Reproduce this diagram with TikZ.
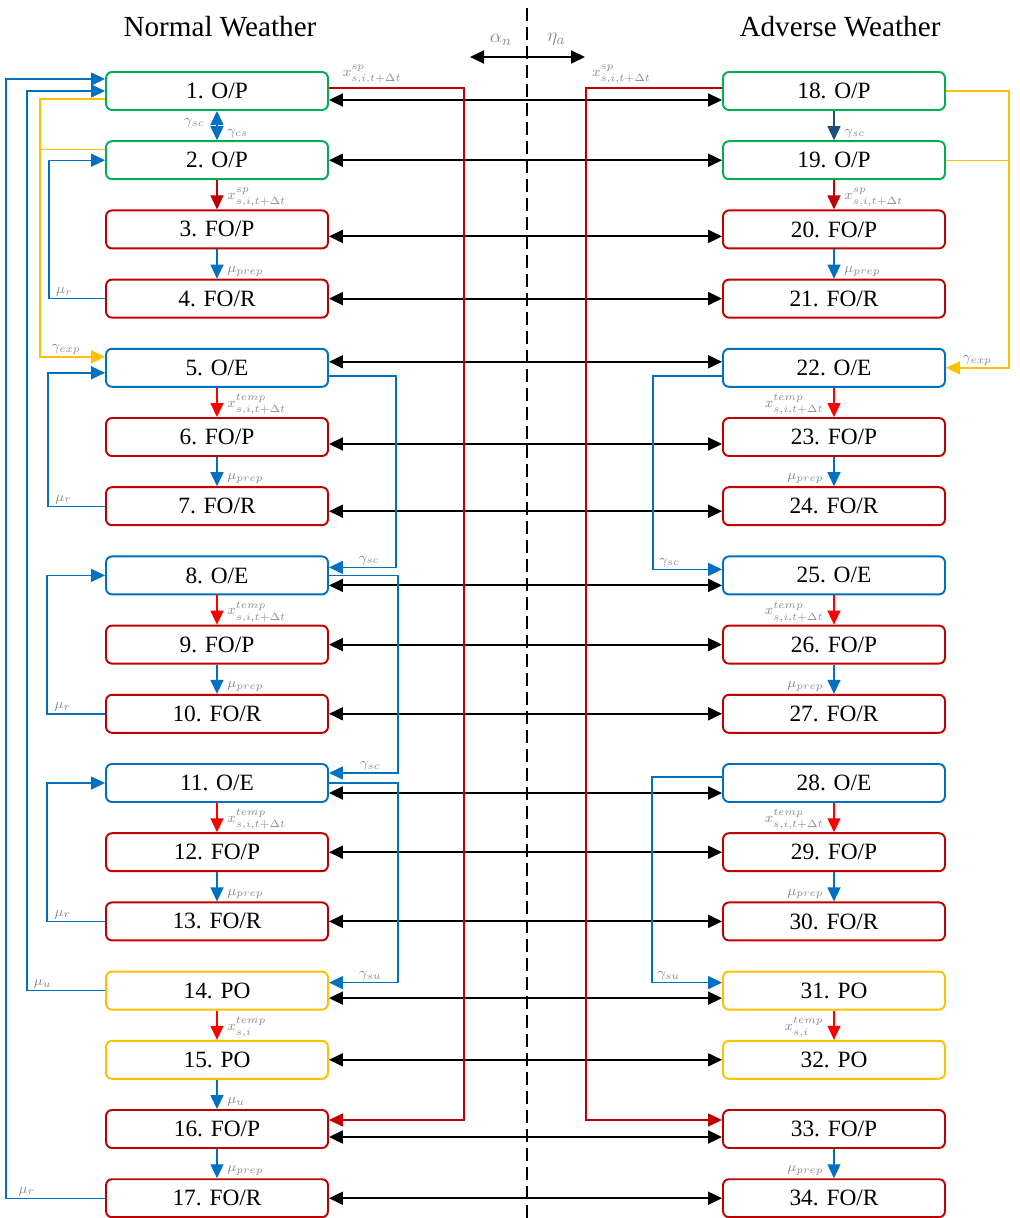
\documentclass[tikz,border=0pt]{standalone}
\usepackage{fontspec}
\setmainfont{Liberation Serif}
\usetikzlibrary{arrows.meta}
\usepackage{xcolor}
\definecolor{grn}{RGB}{0,176,80}
\definecolor{dred}{RGB}{192,0,0}
\definecolor{bred}{RGB}{255,0,0}
\definecolor{blu}{RGB}{0,112,192}
\definecolor{ylw}{RGB}{255,192,0}
\definecolor{navy}{RGB}{31,78,121}
\definecolor{lbgray}{RGB}{140,140,140}

\begin{document}
\begin{tikzpicture}[x=0.02cm, y=-0.02cm,
    statebox/.style={rectangle, draw, rounded corners=0.12cm, line width=1.1pt, minimum width=4.44cm, minimum height=0.76cm, inner sep=0pt, font=\fontsize{13.3}{15}\selectfont},
    onearrow/.style={-{Triangle[length=0.28cm, width=0.26cm]}},
    twoarrow/.style={{Triangle[length=0.28cm, width=0.26cm]}-{Triangle[length=0.28cm, width=0.26cm]}},
    pair/.style={twoarrow, line width=1.1pt},
    bluline/.style={onearrow, draw=blu, line width=0.8pt},
    redline/.style={onearrow, draw=bred, line width=0.8pt},
    dredline/.style={onearrow, draw=dred, line width=0.8pt},
    ylwline/.style={onearrow, draw=ylw, line width=0.8pt},
    lbl/.style={text=lbgray, font=\fontsize{8}{9}\selectfont, inner sep=1pt},
    rlbl/.style={lbl, anchor=south west, pos=1, xshift=0.16cm},
    llbl/.style={lbl, anchor=south east, pos=1, xshift=-0.16cm},
    heading/.style={font=\fontsize{16.6}{20}\selectfont}]
    \useasboundingbox (0,0) rectangle (1019,1218);

    % Headings
    \node[heading] (normal) at (220,27) {Normal Weather};
    \node[heading] (adverse) at (840,27) {Adverse Weather};

    % Divider
    \coordinate (divtop) at (527,8);
    \coordinate (divbot) at (527,1218);
    \coordinate (swl) at (470,57);
    \coordinate (swr) at (585,57);
    \draw[line width=1.1pt, dash pattern=on 0.26cm off 0.12cm] (divtop) -- (divbot);
    \draw[pair] (swl) -- node[lbl, font=\fontsize{11}{12}\selectfont, above, pos=0.27, yshift=0.18cm] {$\alpha_n$} node[lbl, font=\fontsize{11}{12}\selectfont, above, pos=0.75, yshift=0.18cm] {$\eta_a$} (swr);

    % Normal weather states
    \node[statebox, draw=grn] (L1) at (217,91) {1. O/P};
    \node[statebox, draw=grn] (L2) at (217,160.2) {2. O/P};
    \node[statebox, draw=dred] (L3) at (217,229.4) {3. FO/P};
    \node[statebox, draw=dred] (L4) at (217,298.6) {4. FO/R};
    \node[statebox, draw=blu] (L5) at (217,367.8) {5. O/E};
    \node[statebox, draw=dred] (L6) at (217,437) {6. FO/P};
    \node[statebox, draw=dred] (L7) at (217,506.2) {7. FO/R};
    \node[statebox, draw=blu] (L8) at (217,575.4) {8. O/E};
    \node[statebox, draw=dred] (L9) at (217,644.6) {9. FO/P};
    \node[statebox, draw=dred] (L10) at (217,713.8) {10. FO/R};
    \node[statebox, draw=blu] (L11) at (217,783) {11. O/E};
    \node[statebox, draw=dred] (L12) at (217,852.2) {12. FO/P};
    \node[statebox, draw=dred] (L13) at (217,921.4) {13. FO/R};
    \node[statebox, draw=ylw] (L14) at (217,990.6) {14. PO};
    \node[statebox, draw=ylw] (L15) at (217,1059.8) {15. PO};
    \node[statebox, draw=dred] (L16) at (217,1129) {16. FO/P};
    \node[statebox, draw=dred] (L17) at (217,1198.2) {17. FO/R};

    % Adverse weather states
    \node[statebox, draw=grn] (R1) at (834,91) {18. O/P};
    \node[statebox, draw=grn] (R2) at (834,160.2) {19. O/P};
    \node[statebox, draw=dred] (R3) at (834,229.4) {20. FO/P};
    \node[statebox, draw=dred] (R4) at (834,298.6) {21. FO/R};
    \node[statebox, draw=blu] (R5) at (834,367.8) {22. O/E};
    \node[statebox, draw=dred] (R6) at (834,437) {23. FO/P};
    \node[statebox, draw=dred] (R7) at (834,506.2) {24. FO/R};
    \node[statebox, draw=blu] (R8) at (834,575.4) {25. O/E};
    \node[statebox, draw=dred] (R9) at (834,644.6) {26. FO/P};
    \node[statebox, draw=dred] (R10) at (834,713.8) {27. FO/R};
    \node[statebox, draw=blu] (R11) at (834,783) {28. O/E};
    \node[statebox, draw=dred] (R12) at (834,852.2) {29. FO/P};
    \node[statebox, draw=dred] (R13) at (834,921.4) {30. FO/R};
    \node[statebox, draw=ylw] (R14) at (834,990.6) {31. PO};
    \node[statebox, draw=ylw] (R15) at (834,1059.8) {32. PO};
    \node[statebox, draw=dred] (R16) at (834,1129) {33. FO/P};
    \node[statebox, draw=dred] (R17) at (834,1198.2) {34. FO/R};

    % Weather transitions
    \draw[pair] ([yshift=-0.18cm]L1.east) -- ([yshift=-0.18cm]R1.west);
    \draw[pair] (L2.east) -- (R2.west);
    \draw[pair] ([yshift=-0.14cm]L3.east) -- ([yshift=-0.14cm]R3.west);
    \draw[pair] (L4.east) -- (R4.west);
    \draw[pair] ([yshift=0.12cm]L5.east) -- ([yshift=0.12cm]R5.west);
    \draw[pair] ([yshift=-0.14cm]L6.east) -- ([yshift=-0.14cm]R6.west);
    \draw[pair] ([yshift=-0.1cm]L7.east) -- ([yshift=-0.1cm]R7.west);
    \draw[pair] ([yshift=-0.2cm]L8.east) -- ([yshift=-0.2cm]R8.west);
    \draw[pair] (L9.east) -- (R9.west);
    \draw[pair] (L10.east) -- (R10.west);
    \draw[pair] ([yshift=-0.2cm]L11.east) -- ([yshift=-0.2cm]R11.west);
    \draw[pair] (L12.east) -- (R12.west);
    \draw[pair] (L13.east) -- (R13.west);
    \draw[pair] ([yshift=-0.15cm]L14.east) -- ([yshift=-0.15cm]R14.west);
    \draw[pair] (L15.east) -- (R15.west);
    \draw[pair] ([yshift=-0.16cm]L16.east) -- ([yshift=-0.16cm]R16.west);
    \draw[pair] (L17.east) -- (R17.west);

    % Normal weather transitions
    \draw[twoarrow, draw=blu, line width=0.8pt] (L1.south) -- node[lbl, anchor=east, pos=0.4, xshift=-0.2cm] {$\gamma_{sc}$} node[rlbl] {$\gamma_{cs}$} (L2.north);
    \draw[dredline] (L2.south) -- node[rlbl] {$x^{sp}_{s,i,t+\Delta t}$} (L3.north);
    \draw[bluline] (L3.south) -- node[rlbl] {$\mu_{prep}$} (L4.north);
    \draw[redline] (L5.south) -- node[rlbl] {$x^{temp}_{s,i,t+\Delta t}$} (L6.north);
    \draw[bluline] (L6.south) -- node[rlbl] {$\mu_{prep}$} (L7.north);
    \draw[redline] (L8.south) -- node[rlbl] {$x^{temp}_{s,i,t+\Delta t}$} (L9.north);
    \draw[bluline] (L9.south) -- node[rlbl] {$\mu_{prep}$} (L10.north);
    \draw[redline] (L11.south) -- node[rlbl] {$x^{temp}_{s,i,t+\Delta t}$} (L12.north);
    \draw[bluline] (L12.south) -- node[rlbl] {$\mu_{prep}$} (L13.north);
    \draw[redline] (L14.south) -- node[rlbl] {$x^{temp}_{s,i}$} (L15.north);
    \draw[bluline] (L15.south) -- node[rlbl] {$\mu_{u}$} (L16.north);
    \draw[bluline] (L16.south) -- node[rlbl] {$\mu_{prep}$} (L17.north);

    \draw[bluline] (L17.west) -- node[lbl, above, pos=0.79] {$\mu_r$} ++(-99,0) |- ([yshift=0.24cm]L1.west);
    \draw[bluline] (L14.west) -- node[lbl, above, pos=0.8] {$\mu_u$} ++(-78,0) |- (L1.west);
    \draw[ylwline] ([yshift=-0.16cm]L1.west) -- ++(-65,0) |- node[lbl, above, pos=0.7] {$\gamma_{exp}$} ([yshift=0.22cm]L5.west);
    \draw[draw=ylw, line width=0.8pt] ([yshift=0.22cm]L2.west) -- ++(-65,0);
    \draw[bluline] (L4.west) -- node[lbl, above, pos=0.73] {$\mu_r$} ++(-56,0) |- (L2.west);
    \draw[bluline] (L7.west) -- node[lbl, above, pos=0.73] {$\mu_r$} ++(-57,0) |- ([yshift=-0.1cm]L5.west);
    \draw[bluline] (L10.west) -- node[lbl, above, pos=0.73] {$\mu_r$} ++(-58,0) |- (L8.west);
    \draw[bluline] (L13.west) -- node[lbl, above, pos=0.73] {$\mu_r$} ++(-58,0) |- (L11.west);

    \draw[bluline] ([yshift=-0.16cm]L5.east) -- ++(67,0) |- node[lbl, above, pos=0.7] {$\gamma_{sc}$} ([yshift=0.16cm]L8.east);
    \draw[bluline] (L8.east) -- ++(69,0) |- node[lbl, above, pos=0.7] {$\gamma_{sc}$} ([yshift=0.2cm]L11.east);
    \draw[bluline] (L11.east) -- ++(69,0) |- node[lbl, above, pos=0.7] {$\gamma_{su}$} ([yshift=0.16cm]L14.east);
    \draw[dredline] ([yshift=0.06cm]L1.east) -- node[lbl, above, pos=0.32, yshift=0.04cm] {$x^{sp}_{s,i,t+\Delta t}$} ++(135,0) |- ([yshift=0.18cm]L16.east);

    % Adverse weather transitions
    \draw[onearrow, draw=navy, line width=0.8pt] (R1.south) -- node[rlbl] {$\gamma_{sc}$} (R2.north);
    \draw[dredline] (R2.south) -- node[rlbl] {$x^{sp}_{s,i,t+\Delta t}$} (R3.north);
    \draw[bluline] (R3.south) -- node[rlbl] {$\mu_{prep}$} (R4.north);
    \draw[redline] (R5.south) -- node[llbl] {$x^{temp}_{s,i,t+\Delta t}$} (R6.north);
    \draw[bluline] (R6.south) -- node[llbl] {$\mu_{prep}$} (R7.north);
    \draw[redline] (R8.south) -- node[llbl] {$x^{temp}_{s,i,t+\Delta t}$} (R9.north);
    \draw[bluline] (R9.south) -- node[llbl] {$\mu_{prep}$} (R10.north);
    \draw[redline] (R11.south) -- node[llbl] {$x^{temp}_{s,i,t+\Delta t}$} (R12.north);
    \draw[bluline] (R12.south) -- node[llbl] {$\mu_{prep}$} (R13.north);
    \draw[redline] (R14.south) -- node[llbl] {$x^{temp}_{s,i}$} (R15.north);
    \draw[bluline] (R16.south) -- node[llbl] {$\mu_{prep}$} (R17.north);

    \draw[ylwline] (R1.east) -- ++(63,0) |- node[lbl, above, pos=0.75] {$\gamma_{exp}$} (R5.east);
    \draw[draw=ylw, line width=0.8pt] (R2.east) -- ++(63,0);
    \draw[bluline] ([yshift=-0.16cm]R5.west) -- ++(-69,0) |- node[lbl, above, pos=0.62] {$\gamma_{sc}$} ([yshift=0.12cm]R8.west);
    \draw[bluline] ([yshift=0.12cm]R11.west) -- ++(-70,0) |- node[lbl, above, pos=0.62] {$\gamma_{su}$} ([yshift=0.16cm]R14.west);
    \draw[dredline] ([yshift=0.06cm]R1.west) -- node[lbl, above, pos=0.74, yshift=0.04cm] {$x^{sp}_{s,i,t+\Delta t}$} ++(-136,0) |- ([yshift=0.18cm]R16.west);
\end{tikzpicture}
\end{document}
